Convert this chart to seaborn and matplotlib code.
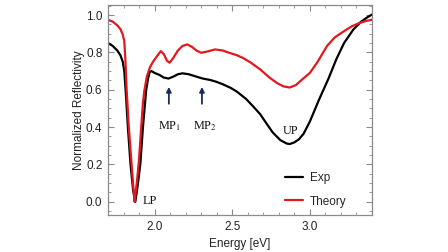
import numpy as np
import pandas as pd
import matplotlib
matplotlib.use("Agg")
import matplotlib.pyplot as plt
from matplotlib.ticker import MultipleLocator
import seaborn as sns

# %% data -----------------------------------------------------------------
exp_energy = [1.70, 1.73, 1.76, 1.78, 1.795, 1.805, 1.815, 1.828, 1.845, 1.862,
              1.876, 1.89, 1.908, 1.925, 1.946, 1.958, 1.968, 1.98, 2.00, 2.03,
              2.06, 2.09, 2.12, 2.15, 2.18, 2.22, 2.27, 2.31, 2.36, 2.40,
              2.44, 2.49, 2.53, 2.59, 2.63, 2.68, 2.72, 2.76, 2.81, 2.85,
              2.87, 2.90, 2.93, 2.96, 3.00, 3.06, 3.12, 3.17, 3.22, 3.28,
              3.33, 3.37, 3.40]
exp_refl = [0.85, 0.835, 0.81, 0.785, 0.75, 0.70, 0.58, 0.40, 0.20, 0.06,
            0.0, 0.08, 0.20, 0.40, 0.60, 0.66, 0.695, 0.70, 0.69, 0.68,
            0.665, 0.66, 0.67, 0.683, 0.688, 0.683, 0.67, 0.66, 0.652, 0.642,
            0.629, 0.61, 0.59, 0.55, 0.515, 0.469, 0.42, 0.372, 0.33, 0.312,
            0.309, 0.318, 0.335, 0.365, 0.43, 0.549, 0.66, 0.763, 0.85, 0.923,
            0.965, 0.988, 1.003]

theory_energy = [1.70, 1.73, 1.76, 1.78, 1.795, 1.805, 1.812, 1.82, 1.834, 1.852,
                 1.865, 1.871, 1.878, 1.888, 1.899, 1.914, 1.925, 1.935, 1.95, 1.97,
                 1.99, 2.02, 2.04, 2.06, 2.08, 2.097, 2.12, 2.15, 2.18, 2.21,
                 2.24, 2.27, 2.30, 2.34, 2.39, 2.44, 2.48, 2.53, 2.57, 2.62,
                 2.68, 2.74, 2.79, 2.83, 2.87, 2.91, 2.95, 3.00, 3.05, 3.11,
                 3.16, 3.22, 3.27, 3.32, 3.36, 3.40]
theory_refl = [0.975, 0.965, 0.945, 0.925, 0.895, 0.86, 0.76, 0.60, 0.40, 0.20,
               0.06, 0.0, 0.05, 0.12, 0.22, 0.40, 0.53, 0.60, 0.67, 0.72,
               0.75, 0.785, 0.807, 0.79, 0.755, 0.745, 0.77, 0.81, 0.835, 0.843,
               0.83, 0.81, 0.798, 0.805, 0.816, 0.81, 0.798, 0.785, 0.77, 0.745,
               0.709, 0.665, 0.635, 0.618, 0.612, 0.625, 0.655, 0.69, 0.75, 0.834,
               0.88, 0.914, 0.94, 0.958, 0.968, 0.975]

peak_labels = ["LP", "MP$_1$", "MP$_2$", "UP"]
peak_x = [1.968, 2.095, 2.325, 2.877]
peak_y = [0.005, 0.405, 0.405, 0.38]
arrow_x = [2.092, 2.305]

df = pd.concat([
    pd.DataFrame({"Energy": exp_energy, "R": exp_refl, "series": "Exp"}),
    pd.DataFrame({"Energy": theory_energy, "R": theory_refl, "series": "Theory"}),
])

# %% plot ------------------------------------------------------------------
sns.set_style("ticks")
plt.rcParams["font.family"] = ["Liberation Sans", "DejaVu Sans"]
plt.rcParams["mathtext.fontset"] = "stix"

fig = plt.figure(figsize=(4.48, 2.52), dpi=100)
ax = fig.add_axes([108 / 448, 37 / 252, 264 / 448, 210 / 252])

sns.lineplot(data=df, x="Energy", y="R", hue="series", sort=False,
             palette={"Exp": "black", "Theory": "#e3171c"}, lw=1.6, ax=ax,
             estimator=None)

ax.set_xlim(1.7, 3.4)
ax.set_ylim(-0.071, 1.054)
ax.xaxis.set_major_locator(MultipleLocator(0.5))
ax.xaxis.set_minor_locator(MultipleLocator(0.1))
ax.yaxis.set_major_locator(MultipleLocator(0.2))
ax.yaxis.set_minor_locator(MultipleLocator(0.05))
ax.tick_params(which="both", direction="in", top=True, right=True,
               color="#8a8a8a", labelsize=8.5, labelcolor="#222222", pad=4)
ax.tick_params(which="major", length=4, width=0.8)
ax.tick_params(which="minor", length=2, width=0.6)
for sp in ax.spines.values():
    sp.set_color("#8a8a8a")
    sp.set_linewidth(0.9)

ax.set_xlabel("Energy [eV]", fontsize=8.5, color="#222222", labelpad=4)
ax.set_ylabel("Normalized Reflectivity", fontsize=8.5, color="#222222", labelpad=1)

# arrows for the middle polaritons
for xa in arrow_x:
    ax.annotate("", xy=(xa, 0.63), xytext=(xa, 0.51),
                arrowprops=dict(arrowstyle="-|>", color="#1b2a5c", lw=1.3,
                                mutation_scale=7))
for lab, xp, yp in zip(peak_labels, peak_x, peak_y):
    ax.text(xp, yp, lab, family=["Liberation Serif"], fontsize=8.8,
            ha="center", va="center", color="#111111")

leg = ax.legend(loc="lower left", bbox_to_anchor=(0.63, -0.015), frameon=False,
                fontsize=8.5, handlelength=1.5, handletextpad=0.6,
                labelspacing=0.95)
for line in leg.get_lines():
    line.set_linewidth(1.6)

fig.savefig("out.png", dpi=100)
plt.close("all")
